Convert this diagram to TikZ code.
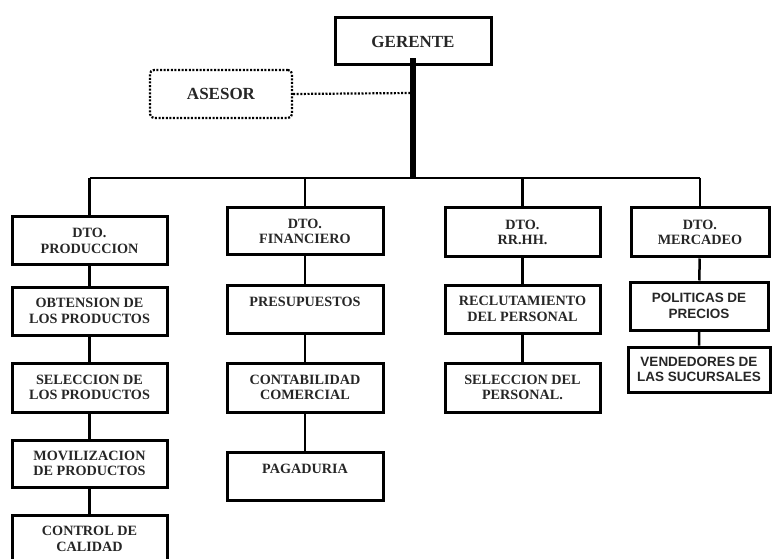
\documentclass[tikz,border=0pt]{standalone}
\usepackage{fontspec}
\setmainfont{Liberation Serif}
\newfontfamily\sansfam{Liberation Sans}
\begin{document}
\begin{tikzpicture}[x=1pt,y=-1pt]
\tikzset{caja/.style = {draw,
                        line width     = 3pt,
                        text           = black!85,
                        minimum width  = 155pt,
                        minimum height = 48pt,
                        inner sep      = 2pt,
                        align          = center,
                        font           = \fontsize{14.2}{15.5}\selectfont\bfseries},
         alto/.style  = {text depth=14pt},
         sans/.style  = {font=\fontsize{13.5}{15.5}\selectfont\sansfam\bfseries},
         linea/.style = {line width=2.5pt},
         punteado/.style = {line width=2.2pt, dash pattern=on 2pt off 1.6pt}}
\useasboundingbox (0,0) rectangle (772,559);
\coordinate (G)  at (413,41.5);
\coordinate (AS) at (221,94);
\coordinate (bus) at (413,178);
\coordinate (cruce) at (413,93);
% departamentos
\coordinate (D1) at (89.5,241);
\coordinate (D2) at (305,231.5);
\coordinate (D3) at (522.5,232.5);
\coordinate (D4) at (700,232.5);
\node[caja, minimum width=156pt, minimum height=47pt, font=\fontsize{17}{18}\selectfont\bfseries] (gerente) at (G) {GERENTE};
\node[caja, punteado, rounded corners=4pt, minimum width=142pt, font=\fontsize{17}{18}\selectfont\bfseries] (asesor) at (AS) {ASESOR};
\node[caja] (prod) at (D1) {DTO.\\PRODUCCION};
\node[caja, minimum width=156pt, minimum height=47pt] (fin) at (D2) {DTO.\\FINANCIERO};
\node[caja, minimum height=49pt] (rrhh) at (D3) {DTO.\\RR.HH.};
\node[caja, minimum width=138pt, minimum height=49pt] (merc) at (D4) {DTO.\\MERCADEO};
% segundo nivel
\node[caja] (obt)  at (89.5,311)  {OBTENSION DE\\LOS PRODUCTOS};
\node[caja, alto, minimum width=156pt] (pres) at (305,309) {PRESUPUESTOS};
\node[caja] (recl) at (522.5,309) {RECLUTAMIENTO\\DEL PERSONAL};
\node[caja, sans, minimum width=138pt] (pol) at (699,306) {POLITICAS DE\\PRECIOS};
\node[caja, minimum height=49pt] (sel)  at (89.5,387.5) {SELECCION DE\\LOS PRODUCTOS};
\node[caja, minimum width=156pt, minimum height=49pt] (cont) at (305,387.5) {CONTABILIDAD\\COMERCIAL};
\node[caja, minimum height=49pt] (selp) at (522.5,387.5) {SELECCION DEL\\PERSONAL.};
\node[caja, sans, minimum width=142pt, minimum height=45pt] (vend) at (699,369.5) {VENDEDORES DE\\LAS SUCURSALES};
\node[caja, minimum height=47pt] (mov)  at (89.5,463.5) {MOVILIZACION\\DE PRODUCTOS};
\node[caja, alto, minimum width=156pt] (pag) at (305,476) {PAGADURIA};
\node[caja] (ctrl) at (89.5,539) {CONTROL DE\\CALIDAD};
% lineas
\draw[line width=6pt] ([yshift=8pt]gerente.south) -- (bus);
\draw[punteado] (asesor.east) -- (cruce);
\draw[linea] (prod.north |- bus) -- (merc.north |- bus);
\foreach \d in {prod,fin,rrhh,merc}
  \draw[linea] (\d.north |- bus) -- (\d.north);
\draw[linea] (prod) -- (obt) (obt) -- (sel) (sel) -- (mov) (mov) -- (ctrl);
\draw[linea] (fin) -- (pres) (pres) -- (cont) (cont) -- (pag);
\draw[linea] (rrhh) -- (recl) (recl) -- (selp);
\draw[linea] (merc) -- (pol) (pol) -- (vend);
\end{tikzpicture}
\end{document}
